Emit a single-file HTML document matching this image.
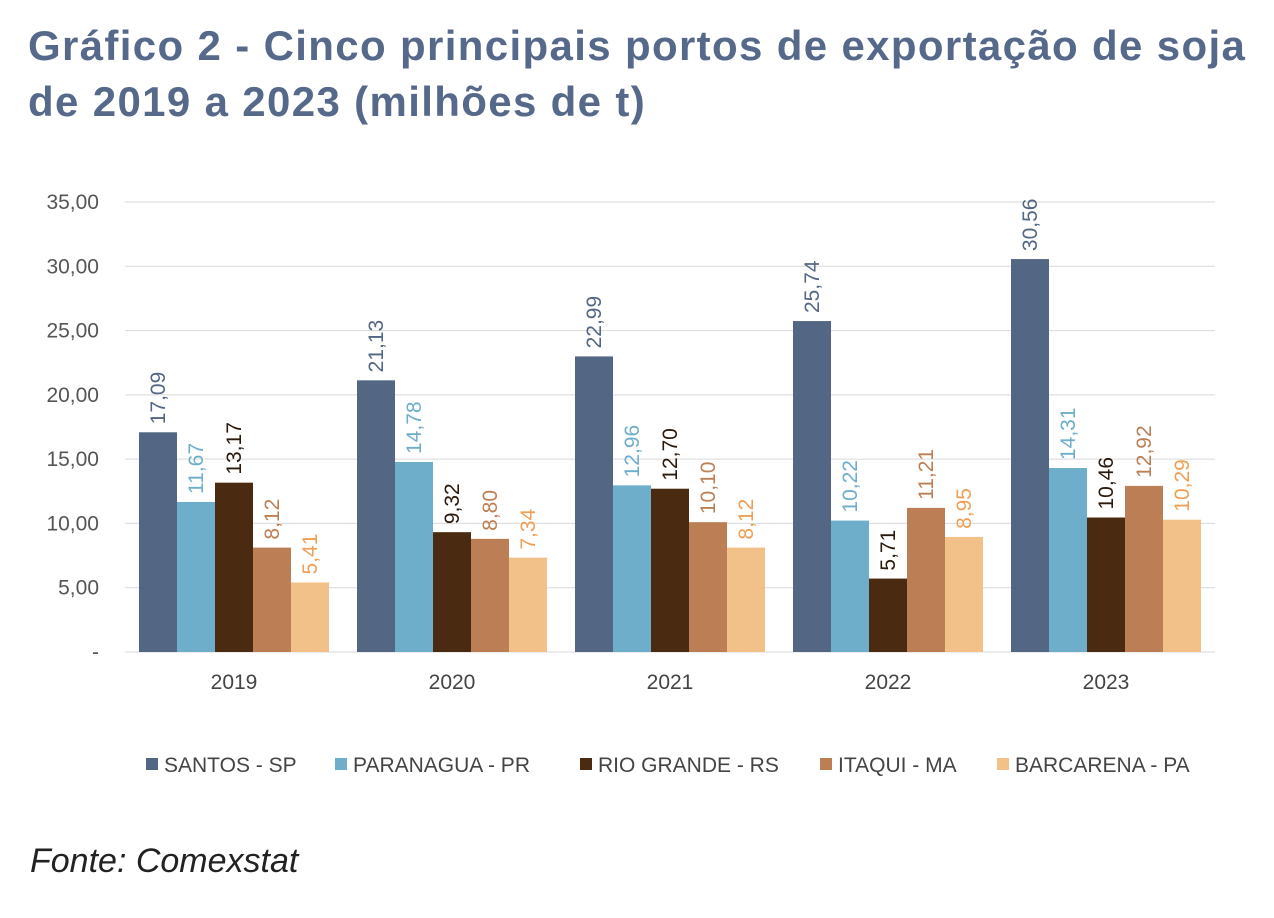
<!DOCTYPE html>
<html><head><meta charset="utf-8">
<style>
body{margin:0;background:#fff;width:1274px;height:918px;overflow:hidden;font-family:"Liberation Sans",sans-serif;}
#title{position:absolute;left:28px;top:18px;font-size:42px;font-weight:bold;color:#56698a;line-height:56px;letter-spacing:1.35px;white-space:nowrap;}
#fonte{position:absolute;left:30px;top:842px;font-size:34px;font-style:italic;color:#222;}
svg{position:absolute;left:0;top:0;}
</style></head><body>
<div id="title">Gráfico 2 - Cinco principais portos de exportação de soja<br>de 2019 a 2023 (milhões de t)</div>
<div id="fonte">Fonte: Comexstat</div>
<svg id="chart" width="1274" height="918"></svg>
<script>
const categories=["2019","2020","2021","2022","2023"];
const seriesNames=["SANTOS - SP","PARANAGUA - PR","RIO GRANDE - RS","ITAQUI - MA","BARCARENA - PA"];
const santos=[17.09,21.13,22.99,25.74,30.56];
const paranagua=[11.67,14.78,12.96,10.22,14.31];
const rioGrande=[13.17,9.32,12.70,5.71,10.46];
const itaqui=[8.12,8.80,10.10,11.21,12.92];
const barcarena=[5.41,7.34,8.12,8.95,10.29];
const yTicks=[0,5,10,15,20,25,30,35];
const yTickLabels=["-","5,00","10,00","15,00","20,00","25,00","30,00","35,00"];
const series=[santos,paranagua,rioGrande,itaqui,barcarena];
const colors=["#536684","#6eaecb","#4a2a10","#bc7f55","#f2c18a"];
const labelColors=["#536684","#6eaecb","#2b1a0c","#bc7f55","#ef9f55"];
const svg=document.getElementById('chart');
const NS="http://www.w3.org/2000/svg";
const x0=125,x1=1215,yBase=652,yTop=202,yMax=35;
const gw=(x1-x0)/categories.length,bw=38,pad=(gw-bw*5)/2;
const y=v=>yBase-(v/yMax)*(yBase-yTop);
function mk(t,a){const e=document.createElementNS(NS,t);for(const k in a)e.setAttribute(k,a[k]);svg.appendChild(e);return e;}
yTicks.forEach((t,i)=>{
 const l=mk('line',{x1:x0,x2:x1,y1:y(t),y2:y(t),stroke:'#d9d9d9','stroke-width':1});
 
 
 const tx=mk('text',{x:99,y:y(t)+7,'text-anchor':'end','font-size':21,fill:'#555'});
 tx.textContent=yTickLabels[i];
 
 
});
categories.forEach((c,ci)=>{
 const gx=x0+ci*gw;
 series.forEach((s,si)=>{
  const bx=gx+pad+si*bw,v=s[ci];
  const r=mk('rect',{x:bx,y:y(v),width:bw,height:yBase-y(v),fill:colors[si]});
  
  
  const lx=bx+bw/2+7,ly=y(v)-8;
  const t=mk('text',{x:lx,y:ly,transform:`rotate(-90 ${lx} ${ly})`,'font-size':21,fill:labelColors[si]});
  t.textContent=v.toFixed(2).replace('.',',');
  
  
 });
 const t=mk('text',{x:gx+gw/2,y:689,'text-anchor':'middle','font-size':21,fill:'#444'});
 t.textContent=c;
 
 
});
const legendX=[146,335,580,820,997];
seriesNames.forEach((n,i)=>{
 const r=mk('rect',{x:legendX[i],y:758,width:12,height:12,fill:colors[i]});
 
 
 const t=mk('text',{x:legendX[i]+18,y:772,'font-size':21,fill:'#444'});
 t.textContent=n;
 
 
});
</script>
</body></html>
